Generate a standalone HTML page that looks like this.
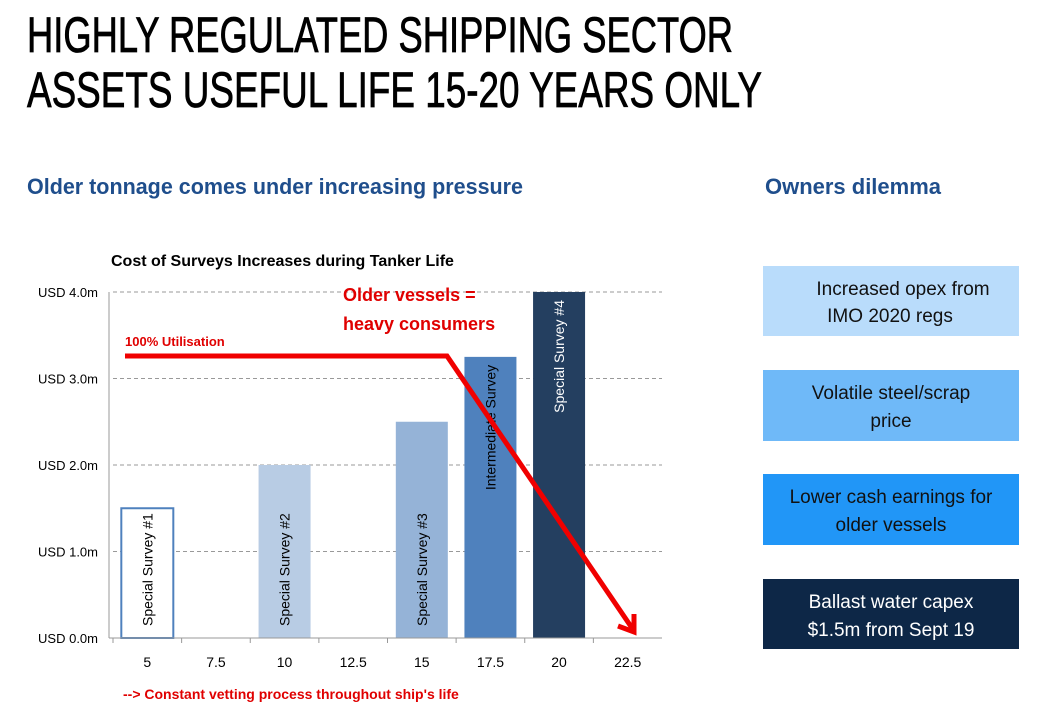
<!DOCTYPE html>
<html><head><meta charset="utf-8"><style>
html,body{margin:0;padding:0;background:#fff;width:1046px;height:717px;overflow:hidden}
svg{display:block;font-family:"Liberation Sans",sans-serif}
</style></head><body>
<svg id="chart" width="1046" height="717" viewBox="0 0 1046 717">
<text x="27" y="52" font-size="50" textLength="706" lengthAdjust="spacingAndGlyphs" fill="#000" stroke="#000" stroke-width="0.8">HIGHLY REGULATED SHIPPING SECTOR</text>
<text x="27" y="107" font-size="50" textLength="735" lengthAdjust="spacingAndGlyphs" fill="#000" stroke="#000" stroke-width="0.8">ASSETS USEFUL LIFE 15-20 YEARS ONLY</text>
<text x="27" y="194" font-size="22" font-weight="bold" textLength="496" lengthAdjust="spacingAndGlyphs" fill="#1f4e8c">Older tonnage comes under increasing pressure</text>
<text x="765" y="194" font-size="22" font-weight="bold" textLength="176" lengthAdjust="spacingAndGlyphs" fill="#1f4e8c">Owners dilemma</text>
<text x="111" y="266" font-size="16" font-weight="bold" fill="#000">Cost of Surveys Increases during Tanker Life</text>
<g id="grid"></g><g id="bars"></g><g id="axes"></g>
<text x="125" y="346" font-size="13" font-weight="bold" fill="#e00000">100% Utilisation</text>
<text x="343" y="301" font-size="18" font-weight="bold" fill="#e00000">Older vessels =</text>
<text x="343" y="330" font-size="18" font-weight="bold" fill="#e00000">heavy consumers</text>
<polyline points="125,356 447,356 632,628" fill="none" stroke="#f00000" stroke-width="5"/>
<polyline points="618,626 634,632 634,614" fill="none" stroke="#f00000" stroke-width="5"/>
<text x="123" y="699" font-size="14" font-weight="bold" fill="#e00000">--&gt; Constant vetting process throughout ship's life</text>
<g><rect x="763" y="266" width="256" height="70" fill="#b9dcfb"/><text x="903" y="295" font-size="19" text-anchor="middle" fill="#111">Increased opex from</text><text x="890" y="322" font-size="19" text-anchor="middle" fill="#111">IMO 2020 regs</text></g>
<g><rect x="763" y="370" width="256" height="71" fill="#6fb9f8"/><text x="891" y="399" font-size="19" text-anchor="middle" fill="#111">Volatile steel/scrap</text><text x="891" y="427" font-size="19" text-anchor="middle" fill="#111">price</text></g>
<g><rect x="763" y="474" width="256" height="71" fill="#2196f7"/><text x="891" y="503" font-size="19" text-anchor="middle" fill="#111">Lower cash earnings for</text><text x="891" y="531" font-size="19" text-anchor="middle" fill="#111">older vessels</text></g>
<g><rect x="763" y="579" width="256" height="70" fill="#0d2747"/><text x="891" y="608" font-size="19" text-anchor="middle" fill="#fff">Ballast water capex</text><text x="891" y="636" font-size="19" text-anchor="middle" fill="#fff">$1.5m from Sept 19</text></g>
</svg>
<script>
const categories=["5","7.5","10","12.5","15","17.5","20","22.5"];
const values=[1.5,null,2.0,null,2.5,3.25,4.0,null];
const barLabels=["Special Survey #1","","Special Survey #2","","Special Survey #3","Intermediate Survey","Special Survey #4",""];
const yTicks=[0,1,2,3,4];
const yTickLabels=["USD 0.0m","USD 1.0m","USD 2.0m","USD 3.0m","USD 4.0m"];
const barFills=["#ffffff",null,"#b8cce4",null,"#95b3d7","#4f81bd","#243f60",null];
const NS="http://www.w3.org/2000/svg";
const X0=113,X1=662,Y0=638,Y4=292;
const cw=(X1-X0)/categories.length;
const xC=i=>X0+cw*(i+0.5);
const y=v=>Y0-(v/4)*(Y0-Y4);
function mk(t,a,p){const e=document.createElementNS(NS,t);for(const k in a)e.setAttribute(k,a[k]);p.appendChild(e);return e;}
const grid=document.getElementById('grid'),bars=document.getElementById('bars'),axes=document.getElementById('axes');
yTicks.forEach((v,i)=>{
  if(v>0){const l=mk('line',{x1:X0,x2:X1,y1:y(v),y2:y(v),stroke:'#999','stroke-dasharray':'4,3'},grid);
  
  }
  const t=mk('text',{x:98,y:y(v)+5,'font-size':13,'text-anchor':'end',fill:'#000'},axes);t.textContent=yTickLabels[i];
  
  
});
values.forEach((v,i)=>{
  if(v==null)return;
  const bw=52,x=xC(i)-bw/2;
  const r=mk('rect',{x:x,y:y(v),width:bw,height:Y0-y(v),fill:barFills[i],stroke:i===0?'#4f81bd':'none','stroke-width':2},bars);
  
  
  const top=i>=5;
  const tx=xC(i)+5, ty=top?y(v)+8:Y0-12;
  const t=mk('text',{x:tx,y:ty,'font-size':14,fill:i===6?'#fff':'#000','text-anchor':top?'end':'start',transform:`rotate(-90 ${tx} ${ty})`},bars);
  t.textContent=barLabels[i];
  
  
});
const ax=mk('line',{x1:X0-4,x2:X0-4,y1:Y4,y2:Y0,stroke:'#999'},axes);


const bx=mk('line',{x1:X0-4,x2:X1,y1:Y0,y2:Y0,stroke:'#999'},axes);


categories.forEach((c,i)=>{
  mk('line',{x1:X0+cw*i,x2:X0+cw*i,y1:Y0,y2:Y0+5,stroke:'#999'},axes);
  const t=mk('text',{x:xC(i),y:Y0+29,'font-size':14,'text-anchor':'middle',fill:'#000'},axes);t.textContent=c;
  
  
});
</script>
</body></html>
